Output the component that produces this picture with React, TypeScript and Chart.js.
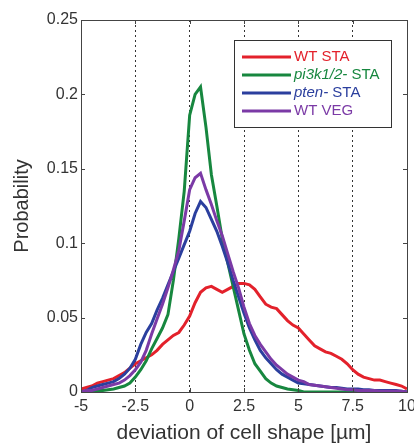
import React, { useEffect, useRef } from "react";
import { Chart, registerables } from "chart.js";

Chart.register(...registerables);

const xValues = [
  -5, -4.75, -4.5, -4.25, -4, -3.75, -3.5, -3.25, -3, -2.75, -2.5, -2.25, -2, -1.75, -1.5, -1.25,
  -1, -0.75, -0.5, -0.25, 0, 0.25, 0.5, 0.75, 1, 1.25, 1.5, 1.75, 2, 2.25, 2.5, 2.75, 3, 3.25,
  3.5, 3.75, 4, 4.25, 4.5, 4.75, 5, 5.25, 5.5, 5.75, 6, 6.25, 6.5, 6.75, 7, 7.25, 7.5, 7.75, 8,
  8.25, 8.5, 8.75, 9, 9.25, 9.5, 9.75, 10,
];

const wtSta = [
  0.002, 0.003, 0.004, 0.006, 0.007, 0.008, 0.009, 0.011, 0.013, 0.016, 0.019, 0.021, 0.023, 0.025, 0.028, 0.032,
  0.035, 0.038, 0.04, 0.045, 0.051, 0.06, 0.067, 0.07, 0.071, 0.069, 0.067, 0.069, 0.071, 0.073, 0.073, 0.072, 0.069, 0.064,
  0.059, 0.057, 0.056, 0.052, 0.048, 0.045, 0.043, 0.039, 0.035, 0.031, 0.029, 0.027, 0.026, 0.024, 0.022, 0.019, 0.015, 0.012, 0.01,
  0.009, 0.008, 0.008, 0.007, 0.006, 0.005, 0.004, 0.002,
];

const pi3kSta = [
  0, 0.0005, 0.001, 0.001, 0.001, 0.0015, 0.002, 0.003, 0.004, 0.006, 0.01, 0.015, 0.021, 0.029, 0.036, 0.043,
  0.052, 0.075, 0.103, 0.135, 0.186, 0.2, 0.205, 0.178, 0.146, 0.125, 0.103, 0.087, 0.071, 0.055, 0.039, 0.028, 0.019, 0.014,
  0.009, 0.006, 0.004, 0.003, 0.002, 0.0015, 0.001, 0, 0, 0, 0, 0, 0, 0, 0, 0, 0, 0, 0,
  0, 0, 0, 0, 0, 0, 0, 0,
];

const ptenSta = [
  0, 0.001, 0.003, 0.004, 0.005, 0.006, 0.007, 0.009, 0.012, 0.016, 0.022, 0.032, 0.04, 0.046, 0.055, 0.063,
  0.072, 0.081, 0.09, 0.099, 0.108, 0.12, 0.128, 0.124, 0.116, 0.108, 0.098, 0.087, 0.075, 0.064, 0.053, 0.043, 0.035, 0.028,
  0.023, 0.019, 0.015, 0.012, 0.01, 0.008, 0.006, 0.0055, 0.005, 0.0045, 0.004, 0.0035, 0.003, 0.003, 0.0025, 0.002, 0.002, 0.002, 0.0015,
  0.0015, 0.001, 0.001, 0.001, 0.001, 0.001, 0.0005, 0,
];

const wtVeg = [
  0, 0.001, 0.001, 0.002, 0.003, 0.004, 0.005, 0.006, 0.008, 0.011, 0.015, 0.02, 0.028, 0.039, 0.049, 0.059,
  0.07, 0.082, 0.095, 0.115, 0.136, 0.144, 0.147, 0.136, 0.126, 0.115, 0.105, 0.093, 0.081, 0.07, 0.057, 0.046, 0.038, 0.032,
  0.027, 0.022, 0.018, 0.015, 0.012, 0.01, 0.008, 0.007, 0.005, 0.0045, 0.004, 0.0035, 0.003, 0.0025, 0.002, 0.0015, 0.0015, 0.001, 0.001,
  0.001, 0.001, 0.0005, 0.0005, 0.0005, 0.0005, 0.0005, 0,
];

const seriesValues = [wtSta, pi3kSta, ptenSta, wtVeg];
const seriesColors = ["#e3212b", "#17873f", "#2b3f9e", "#7b3aa6"];
// legend label parts: [text, italic]
const seriesLabelParts: [string, boolean][][] = [
  [["WT STA", false]],
  [["pi3k1/2-", true], [" STA", false]],
  [["pten-", true], [" STA", false]],
  [["WT VEG", false]],
];

const xTicks = [-5, -2.5, 0, 2.5, 5, 7.5, 10];
const xTickLabels = ["-5", "-2.5", "0", "2.5", "5", "7.5", "10"];
const yTicks = [0, 0.05, 0.1, 0.15, 0.2, 0.25];
const yTickLabels = ["0", "0.05", "0.1", "0.15", "0.2", "0.25"];

const xTitle = "deviation of cell shape [µm]";
const yTitle = "Probability";

const FONT = "'Liberation Sans', Arial, Helvetica, sans-serif";
const TEXT = "#333333";

const framePlugin = {
  id: "matlabFrame",
  afterDatasetsDraw(chart: any) {
    const ctx = chart.ctx;
    const { left, right, top, bottom } = chart.chartArea;
    const ys = chart.scales.y;
    const xs = chart.scales.x;
    ctx.save();
    ctx.strokeStyle = "#444";
    ctx.lineWidth = 1;
    ctx.strokeRect(left + 0.5, top + 0.5, right - left, bottom - top);
    ctx.beginPath();
    yTicks.forEach((v) => {
      const py = Math.round(ys.getPixelForValue(v)) + 0.5;
      ctx.moveTo(left, py);
      ctx.lineTo(left + 4, py);
      ctx.moveTo(right, py);
      ctx.lineTo(right - 4, py);
    });
    xTicks.forEach((v) => {
      const px = Math.round(xs.getPixelForValue(v)) + 0.5;
      ctx.moveTo(px, bottom);
      ctx.lineTo(px, bottom - 4);
      ctx.moveTo(px, top);
      ctx.lineTo(px, top + 4);
    });
    ctx.stroke();

    // legend
    const bx = 234, by = 40, bw = 157, bh = 87;
    ctx.fillStyle = "#ffffff";
    ctx.fillRect(bx, by, bw, bh);
    ctx.strokeStyle = "#333";
    ctx.lineWidth = 1;
    ctx.strokeRect(bx + 0.5, by + 0.5, bw, bh);
    ctx.textBaseline = "middle";
    seriesLabelParts.forEach((parts, i) => {
      const ly = by + 17 + i * 18;
      ctx.strokeStyle = seriesColors[i];
      ctx.lineWidth = 3;
      ctx.beginPath();
      ctx.moveTo(bx + 8, ly);
      ctx.lineTo(bx + 57, ly);
      ctx.stroke();
      let tx = bx + 60;
      ctx.fillStyle = seriesColors[i];
      parts.forEach(([t, it]) => {
        ctx.font = `${it ? "italic " : ""}15px ${FONT}`;
        ctx.fillText(t, tx, ly);
        tx += ctx.measureText(t).width;
      });
    });
    ctx.restore();
  },
};

export default function App() {
  const ref = useRef<HTMLCanvasElement | null>(null);
  useEffect(() => {
    document.body.style.margin = "0";
    document.body.style.background = "#ffffff";
    const canvas = ref.current;
    if (!canvas) return;
    const chart = new Chart(canvas, {
      type: "line",
      data: {
        datasets: seriesValues.map((vals, i) => ({
          label: seriesLabelParts[i].map((p) => p[0]).join(""),
          data: xValues.map((x, j) => ({ x, y: vals[j] })),
          borderColor: seriesColors[i],
          backgroundColor: seriesColors[i],
          borderWidth: 3,
          pointRadius: 0,
          tension: 0,
          fill: false,
          order: 4 - i,
        })),
      },
      options: {
        animation: false,
        responsive: false,
        maintainAspectRatio: false,
        layout: { padding: { top: 20, right: 7, left: 0, bottom: 0 } },
        plugins: { legend: { display: false }, tooltip: { enabled: false } },
        scales: {
          x: {
            type: "linear",
            min: -5,
            max: 10,
            afterBuildTicks: (s: any) => {
              s.ticks = xTicks.map((v) => ({ value: v }));
            },
            afterFit: (s: any) => {
              s.height = 54;
              s.paddingLeft = 0;
              s.paddingRight = 0;
            },
            ticks: {
              autoSkip: false,
              maxRotation: 0,
              padding: 5,
              color: TEXT,
              font: { family: FONT, size: 16 },
              callback: (v: any) => {
                const i = xTicks.findIndex((t) => Math.abs(t - Number(v)) < 1e-9);
                return i >= 0 ? xTickLabels[i] : "";
              },
            },
            grid: { display: true, color: "#333", lineWidth: 1, drawTicks: false },
            border: { display: false, dash: [2, 3] },
            title: {
              display: true,
              text: xTitle,
              color: TEXT,
              font: { family: FONT, size: 21 },
              padding: { top: 0, bottom: 0 },
            },
          },
          y: {
            type: "linear",
            min: 0,
            max: 0.25,
            afterBuildTicks: (s: any) => {
              s.ticks = yTicks.map((v) => ({ value: v }));
            },
            afterFit: (s: any) => {
              s.width = 81;
              s.paddingTop = 0;
              s.paddingBottom = 0;
            },
            ticks: {
              autoSkip: false,
              padding: 3,
              color: TEXT,
              font: { family: FONT, size: 16 },
              callback: (v: any) => {
                const i = yTicks.findIndex((t) => Math.abs(t - Number(v)) < 1e-9);
                return i >= 0 ? yTickLabels[i] : "";
              },
            },
            grid: { display: false, drawTicks: false },
            border: { display: false },
            title: {
              display: true,
              text: yTitle,
              color: TEXT,
              font: { family: FONT, size: 20 },
              padding: { top: 10, bottom: 0 },
            },
          },
        },
      },
      plugins: [framePlugin],
    });
    return () => chart.destroy();
  }, []);
  return (
    <div style={{ width: 414, height: 446 }}>
      <canvas ref={ref} width={414} height={446} style={{ display: "block", width: 414, height: 446 }} />
    </div>
  );
}
